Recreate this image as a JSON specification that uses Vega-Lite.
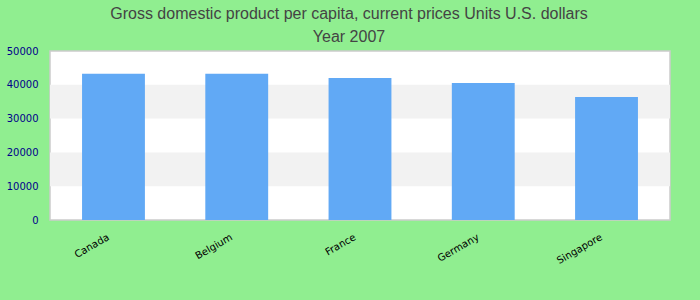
{
  "$schema": "https://vega.github.io/schema/vega-lite/v6.json",
  "autosize": "none",
  "width": 620,
  "height": 169,
  "padding": {"left": 50, "top": 51, "right": 30, "bottom": 80},
  "background": "#90EE90",
  "title": {
    "text": ["Gross domestic product per capita, current prices Units U.S. dollars", "Year 2007"],
    "font": "Liberation Sans",
    "fontSize": 16,
    "fontWeight": "normal",
    "color": "#444444",
    "lineHeight": 23,
    "offset": 1,
    "dx": -11,
    "anchor": "middle"
  },
  "config": {
    "view": {"stroke": "#cccccc", "strokeWidth": 1.5, "fill": "#ffffff"},
    "axisY": {
      "grid": false,
      "ticks": false,
      "domain": false,
      "labelPadding": 12,
      "labelOverlap": false,
      "labelFlush": false,
      "labelFont": "DejaVu Sans",
      "labelFontSize": 10,
      "labelColor": "#00008b"
    }
  },
  "data": {
    "values": [
      {"country": "Canada", "gdp": 43300},
      {"country": "Belgium", "gdp": 43250},
      {"country": "France", "gdp": 42000},
      {"country": "Germany", "gdp": 40500},
      {"country": "Singapore", "gdp": 36400}
    ]
  },
  "layer": [
    {
      "data": {"values": [{"lo": 10000, "hi": 20000}, {"lo": 30000, "hi": 40000}]},
      "mark": {"type": "rect", "fill": "#f2f2f2"},
      "encoding": {
        "y": {
          "field": "lo",
          "type": "quantitative",
          "scale": {"domain": [0, 50000], "nice": false},
          "axis": {
            "title": null,
            "values": [0, 10000, 20000, 30000, 40000, 50000],
            "format": "d"
          }
        },
        "y2": {"field": "hi"}
      }
    },
    {
      "mark": {"type": "bar", "color": "#61a9f5"},
      "encoding": {
        "x": {
          "field": "country",
          "type": "nominal",
          "sort": null,
          "scale": {"paddingInner": 0.49, "paddingOuter": 0.26},
          "axis": {
            "title": null,
            "ticks": false,
            "domain": false,
            "labelAngle": -30,
            "labelAlign": "right",
            "labelBaseline": "middle",
            "labelPadding": 16,
            "labelOffset": -5,
            "labelFont": "DejaVu Sans",
            "labelFontSize": 10,
            "labelColor": "#000000"
          }
        },
        "y": {
          "field": "gdp",
          "type": "quantitative",
          "title": null,
          "axis": {
            "title": null,
            "values": [0, 10000, 20000, 30000, 40000, 50000],
            "format": "d"
          }
        }
      }
    }
  ]
}
